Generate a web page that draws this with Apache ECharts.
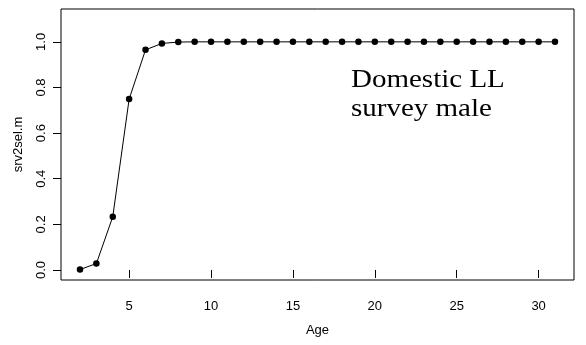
<!DOCTYPE html>
<html>
<head>
<meta charset="utf-8">
<script src="https://cdn.jsdelivr.net/npm/echarts@6/dist/echarts.min.js"></script>
<style>html,body{margin:0;padding:0;background:#fff}#c{width:586px;height:345px}</style>
</head>
<body>
<div id="c"></div>
<script>
const ages = [2,3,4,5,6,7,8,9,10,11,12,13,14,15,16,17,18,19,20,21,22,23,24,25,26,27,28,29,30,31];
const srv2selM = [0.002,0.028,0.233,0.749,0.965,0.993,0.999,1,1,1,1,1,1,1,1,1,1,1,1,1,1,1,1,1,1,1,1,1,1,1];
const xTicks = [5,10,15,20,25,30];
const yTicks = [0,0.2,0.4,0.6,0.8,1.0];
const annotation = ['Domestic LL','survey male'];

const chart = echarts.init(document.getElementById('c'), null, {renderer:'canvas'});
const axisFont = {fontFamily:'Liberation Sans, Arial, sans-serif', fontSize:13, color:'#000'};
chart.setOption({
  animation:false,
  backgroundColor:'#fff',
  grid:{left:61, top:9, right:12, bottom:65, show:true, borderColor:'#000', borderWidth:1, backgroundColor:'transparent'},
  xAxis:{
    type:'value', min:0.84, max:32.16,
    name:'Age', nameLocation:'middle', nameGap:44,
    nameTextStyle:axisFont,
    axisLine:{show:false},
    splitLine:{show:false},
    axisTick:{show:true, inside:false, length:8, lineStyle:{color:'#000'}, customValues:xTicks},
    axisLabel:{show:true, margin:20, customValues:xTicks, ...axisFont}
  },
  yAxis:{
    type:'value', min:-0.044, max:1.144,
    name:'srv2sel.m', nameLocation:'middle', nameGap:36, nameRotate:90,
    nameTextStyle:axisFont,
    axisLine:{show:false},
    splitLine:{show:false},
    axisTick:{show:true, inside:false, length:8, lineStyle:{color:'#000'}, customValues:yTicks},
    axisLabel:{show:true, rotate:90, margin:13, customValues:yTicks, formatter:v=>v.toFixed(1), ...axisFont}
  },
  series:[{
    type:'line',
    data:ages.map((a,i)=>[a,srv2selM[i]]),
    symbol:'circle', symbolSize:6.5, showSymbol:true,
    lineStyle:{color:'#000', width:1},
    itemStyle:{color:'#000'}
  }],
  graphic:[{
    type:'text', left:351, top:66, scaleX:1.16,
    style:{text:annotation.join('\n'), font:'25px "Liberation Serif", "Times New Roman", serif', lineHeight:29, fill:'#000'}
  }]
});
</script>
</body>
</html>
